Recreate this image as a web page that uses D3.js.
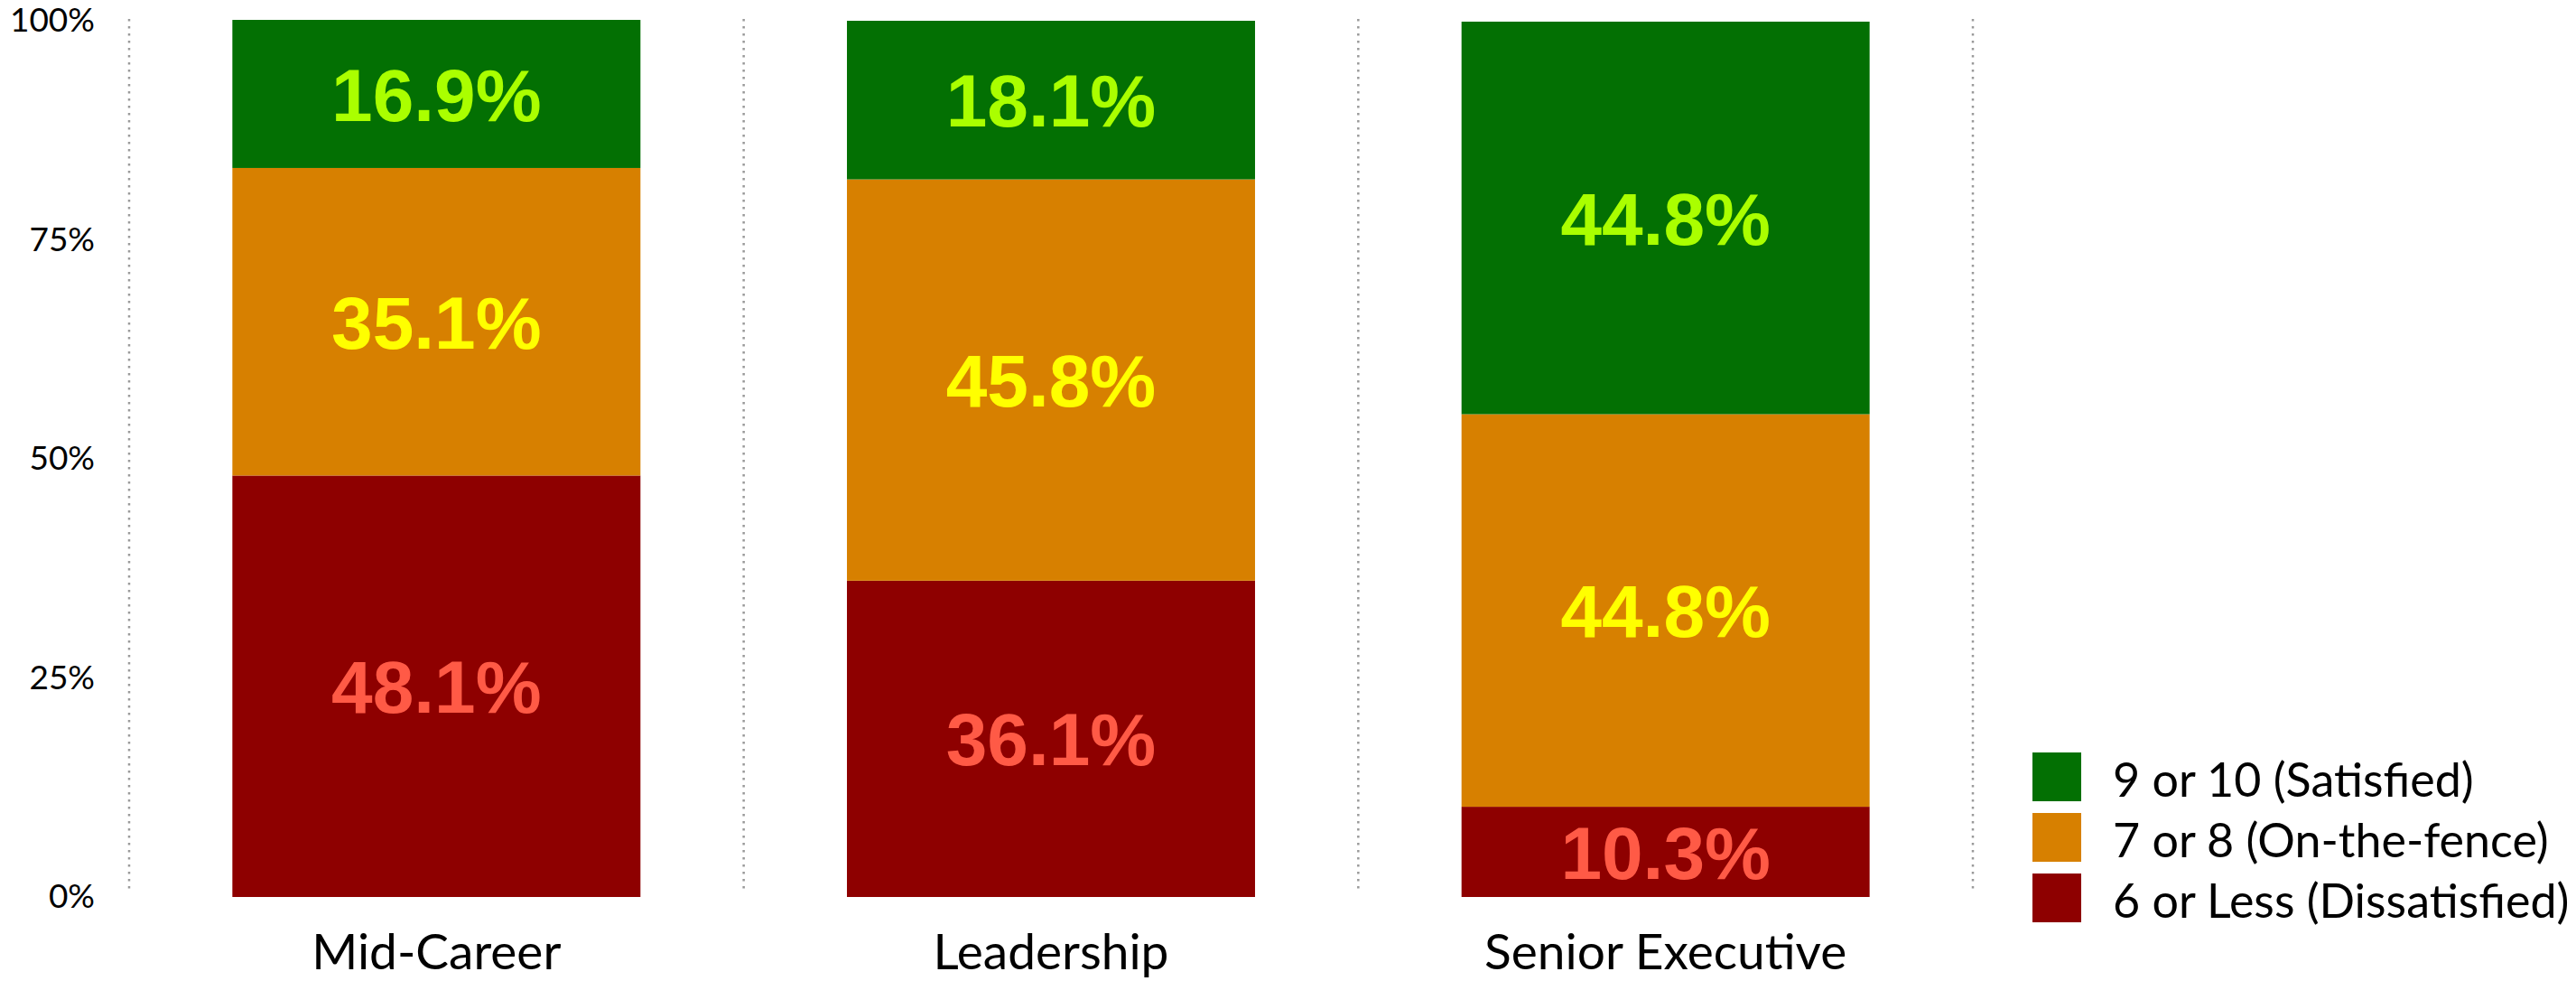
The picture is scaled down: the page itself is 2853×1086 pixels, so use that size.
<!DOCTYPE html>
<html>
<head>
<meta charset="utf-8">
<script src="https://cdn.jsdelivr.net/npm/d3@7"></script>
<style>
    body { margin: 0; background: #fff; }
    #mySVG { display: block; }
</style>
</head>
<body>
<script>
// chart data
var categories = ["Mid-Career", "Leadership", "Senior Executive"];
var dissatisfied = [48.1, 36.1, 10.3];
var onTheFence = [35.1, 45.8, 44.8];
var satisfied = [16.9, 18.1, 44.8];
var seriesKeys = ["dissatisfied", "onTheFence", "satisfied"];
var seriesNames = ["6 or Less (Dissatisfied)", "7 or 8 (On-the-fence)", "9 or 10 (Satisfied)"];
var yTicks = [0, 25, 50, 75, 100];

var barColors = { dissatisfied: "#8e0000", onTheFence: "#d78000", satisfied: "#037003" };
var labelColors = { dissatisfied: "#ff5a46", onTheFence: "#ffff00", satisfied: "#aaff00" };

var chartWidth = 2853, chartHeight = 1086;
var plotLeft = 143, plotRight = 2185, plotTop = 23, plotBottom = 993;

var mySVG = d3.select("body")
    .append("svg")
    .attr("id", "mySVG")
    .attr("width", chartWidth)
    .attr("height", chartHeight);

var myData = categories.map(function (c, i) {
    return { cat: c, dissatisfied: dissatisfied[i], onTheFence: onTheFence[i], satisfied: satisfied[i] };
});

var stacked = d3.stack().keys(seriesKeys)(myData);

var xScale = d3.scaleBand()
    .domain(categories)
    .range([plotLeft, plotRight])
    .paddingInner(0.336)
    .paddingOuter(0.168);

var yScale = d3.scaleLinear()
    .domain([0, 100])
    .range([plotBottom, plotTop]);

// dotted separators between the categories
var step = xScale.step();
mySVG.append("g")
    .selectAll("line")
    .data(d3.range(categories.length + 1))
    .enter()
    .append("line")
    .attr("x1", function (i) { return plotLeft + i * step; })
    .attr("x2", function (i) { return plotLeft + i * step; })
    .attr("y1", yScale(100) - 2)
    .attr("y2", yScale(0) - 4)
    .attr("stroke", "#9a9a9a")
    .attr("stroke-width", 2.5)
    .attr("stroke-dasharray", "2.5,5.5");

// bars
var layers = mySVG.append("g")
    .selectAll("g")
    .data(stacked)
    .enter()
    .append("g")
    .style("fill", function (d) { return barColors[d.key]; });

layers.selectAll("rect")
    .data(function (d) { return d; })
    .enter()
    .append("rect")
    .attr("x", function (d) { return xScale(d.data.cat); })
    .attr("width", xScale.bandwidth())
    .attr("y", function (d) { return yScale(d[1]); })
    .attr("height", function (d) { return yScale(d[0]) - yScale(d[1]); });

// value labels
layers.each(function (layer) {
    d3.select(this).selectAll("text")
        .data(layer)
        .enter()
        .append("text")
        .attr("x", function (d) { return xScale(d.data.cat) + xScale.bandwidth() / 2; })
        .attr("y", function (d) { return (yScale(d[0]) + yScale(d[1])) / 2; })
        .attr("dy", "0.36em")
        .attr("text-anchor", "middle")
        .style("font-family", "'Liberation Sans Narrow', 'Liberation Sans', sans-serif")
        .style("font-weight", "bold")
        .style("font-size", "82px")
        .style("fill", labelColors[layer.key])
        .text(function (d) { return (d[1] - d[0]).toFixed(1) + "%"; });
});

// y axis
var yAxis = mySVG.append("g")
    .attr("transform", "translate(" + plotLeft + ",0)")
    .call(d3.axisLeft(yScale)
        .tickValues(yTicks)
        .tickSize(0)
        .tickPadding(38)
        .tickFormat(function (d) { return d + "%"; }));
yAxis.select(".domain").remove();
yAxis.selectAll("text")
    .style("font-family", "Lato, sans-serif")
    .style("font-size", "37px")
    .style("fill", "#000");

// x axis
var xAxis = mySVG.append("g")
    .attr("transform", "translate(0," + plotBottom + ")")
    .call(d3.axisBottom(xScale).tickSize(0).tickPadding(41));
xAxis.select(".domain").remove();
xAxis.selectAll("text")
    .style("font-family", "Lato, sans-serif")
    .style("font-size", "55px")
    .style("fill", "#000");

// legend, top row is the last series
var legend = mySVG.append("g")
    .attr("transform", "translate(2251,833)");
var legendItems = legend.selectAll("g")
    .data(seriesKeys.slice().reverse())
    .enter()
    .append("g")
    .attr("transform", function (d, i) { return "translate(0," + (i * 67) + ")"; });
legendItems.append("rect")
    .attr("width", 54)
    .attr("height", 54)
    .style("fill", function (d) { return barColors[d]; });
legendItems.append("text")
    .attr("x", 89)
    .attr("y", 49)
    .style("font-family", "Lato, sans-serif")
    .style("font-size", "52px")
    .style("fill", "#000")
    .text(function (d) { return seriesNames[seriesKeys.indexOf(d)]; });
</script>
</body>
</html>
